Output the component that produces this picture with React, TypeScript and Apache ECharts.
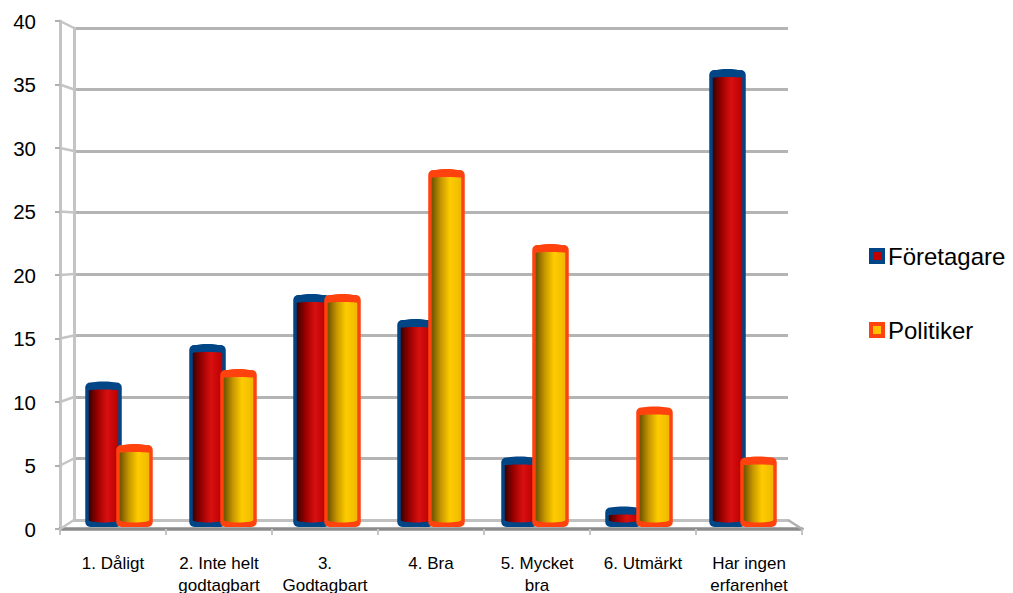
import React, { useEffect, useRef } from "react";
import * as echarts from "echarts";

const categories = ["1. Dåligt", "2. Inte helt\ngodtagbart", "3.\nGodtagbart", "4. Bra", "5. Mycket\nbra", "6. Utmärkt", "Har ingen\nerfarenhet"];
const foretagare = [11, 14, 18, 16, 5, 1, 36];
const politiker = [6, 12, 18, 28, 22, 9, 5];
const seriesNames = ["Företagare", "Politiker"];
const yTicks = [0, 5, 10, 15, 20, 25, 30, 35, 40];

const FONT = '"Liberation Sans", Arial, sans-serif';

function cylinder(side: number, border: string, stops: [number, string][]) {
  return (params: any, api: any) => {
    const idx = api.value(0);
    const band = api.size([1, 0])[0];
    const [cx0, top] = api.coord([idx, api.value(1)]);
    const base = api.coord([idx, 0])[1];
    const cx = cx0 + side * band * 0.149;
    const w = 36.5;
    const inner = w - 7;
    const grad = new echarts.graphic.LinearGradient(0, 0, 1, 0, stops.map(([offset, color]) => ({ offset, color })));
    return {
      type: "group",
      children: [
        { type: "rect", shape: { x: cx - w / 2, y: top - 3, width: w, height: base - top + 7, r: 5 }, style: { fill: border } },
        { type: "ellipse", shape: { cx, cy: top, rx: w / 2 - 1, ry: 4 }, style: { fill: border } },
        { type: "rect", shape: { x: cx - inner / 2, y: top + 5, width: inner, height: Math.max(base - top - 8, 0) }, style: { fill: grad } },
        { type: "ellipse", shape: { cx, cy: top + 5, rx: inner / 2, ry: 1 }, style: { fill: grad } },
        { type: "ellipse", shape: { cx, cy: base - 3, rx: inner / 2, ry: 2.5 }, style: { fill: grad } },
      ],
    };
  };
}

const redStops: [number, string][] = [[0, "#3c0000"], [0.3, "#9a0000"], [0.62, "#d81010"], [1, "#bb0000"]];
const yellowStops: [number, string][] = [[0, "#6e5200"], [0.3, "#c49400"], [0.62, "#ffcc00"], [1, "#eeb900"]];

export default function App() {
  const ref = useRef<HTMLDivElement>(null);
  useEffect(() => {
    const chart = echarts.init(ref.current!, undefined, { renderer: "svg" });
    const hiddenCat = { type: "category" as const, data: categories, axisLabel: { show: false }, axisTick: { show: false }, axisLine: { show: false }, splitLine: { show: false } };
    const hiddenVal = { type: "value" as const, min: 0, max: 40, interval: 5, axisLabel: { show: false }, axisTick: { show: false }, axisLine: { show: false }, splitLine: { show: false } };
    chart.setOption({
      animation: false,
      backgroundColor: "#ffffff",
      grid: [
        { left: 60, right: 211, top: 21, bottom: 64, outerBoundsMode: "none" },
        { left: 74, right: 225, top: 28, bottom: 73, outerBoundsMode: "none" },
        { left: 67, right: 218, top: 23, bottom: 70, outerBoundsMode: "none" },
      ],
      xAxis: [
        {
          type: "category",
          gridIndex: 0,
          data: categories,
          axisLine: { show: true, onZero: false, lineStyle: { color: "#8c8c8c", width: 3.5 } },
          axisTick: { show: true, length: 6, lineStyle: { color: "#c4c4c4", width: 2 } },
          axisLabel: { show: true, interval: 0, color: "#000000", fontFamily: FONT, fontSize: 17, margin: 23, lineHeight: 22 },
          splitLine: { show: false },
        },
        {
          type: "category",
          gridIndex: 1,
          data: categories,
          axisLine: { show: true, lineStyle: { color: "#c0c0c0", width: 3 } },
          axisTick: { show: false },
          axisLabel: { show: false },
          splitLine: { show: false },
        },
        { ...hiddenCat, gridIndex: 2 },
      ],
      yAxis: [
        {
          type: "value",
          gridIndex: 0,
          min: 0,
          max: 40,
          interval: 5,
          axisLine: { show: true, lineStyle: { color: "#c4c4c4", width: 3 } },
          axisTick: { show: true, length: 5, lineStyle: { color: "#b0b0b0", width: 2 } },
          axisLabel: { show: true, color: "#000000", fontFamily: FONT, fontSize: 20.5, margin: 24 },
          splitLine: { show: false },
        },
        {
          type: "value",
          gridIndex: 1,
          min: 0,
          max: 40,
          interval: 5,
          axisLine: { show: true, lineStyle: { color: "#c4c4c4", width: 3 } },
          axisTick: { show: false },
          axisLabel: { show: false },
          splitLine: { show: true, lineStyle: { color: "#b4b4b4", width: 3 } },
        },
        { ...hiddenVal, gridIndex: 2 },
      ],
      legend: {
        orient: "vertical",
        left: 869,
        top: 244,
        padding: 0,
        itemWidth: 12,
        itemHeight: 12,
        itemGap: 50,
        icon: "rect",
        textStyle: { color: "#000000", fontFamily: FONT, fontSize: 24 },
        data: [
          { name: seriesNames[0], itemStyle: { color: "#c00000", borderColor: "#004586", borderWidth: 4 } },
          { name: seriesNames[1], itemStyle: { color: "#ffc000", borderColor: "#ff420e", borderWidth: 4 } },
        ],
      },
      series: [
        {
          type: "custom",
          name: seriesNames[0],
          xAxisIndex: 2,
          yAxisIndex: 2,
          encode: { x: 0, y: 1 },
          data: foretagare.map((v, i) => [i, v]),
          renderItem: cylinder(-1, "#004586", redStops),
          itemStyle: { color: "#c00000", borderColor: "#004586", borderWidth: 4 },
          z: 5,
        },
        {
          type: "custom",
          name: seriesNames[1],
          xAxisIndex: 2,
          yAxisIndex: 2,
          encode: { x: 0, y: 1 },
          data: politiker.map((v, i) => [i, v]),
          renderItem: cylinder(1, "#ff420e", yellowStops),
          itemStyle: { color: "#ffc000", borderColor: "#ff420e", borderWidth: 4 },
          z: 6,
        },
      ],
    });
    const diagonals = yTicks.map((v) => {
      const a = chart.convertToPixel({ gridIndex: 0 }, [0, v]);
      const b = chart.convertToPixel({ gridIndex: 1 }, [0, v]);
      return { y1: a[1], y2: b[1] };
    });
    const bottomFront = chart.convertToPixel({ gridIndex: 0 }, [0, 0])[1];
    const bottomBack = chart.convertToPixel({ gridIndex: 1 }, [0, 0])[1];
    chart.setOption({
      graphic: [
        ...diagonals.map((d) => ({
          type: "line",
          z: 1,
          shape: { x1: 60, y1: d.y1, x2: 74, y2: d.y2 },
          style: { stroke: "#c4c4c4", lineWidth: 2.5 },
        })),
        {
          type: "line",
          z: 1,
          shape: { x1: 802, y1: bottomFront, x2: 788, y2: bottomBack },
          style: { stroke: "#b0b0b0", lineWidth: 2.5 },
        },
      ],
    });
    return () => chart.dispose();
  }, []);
  return <div ref={ref} style={{ position: "fixed", left: 0, top: 0, width: 1013, height: 593 }} />;
}
